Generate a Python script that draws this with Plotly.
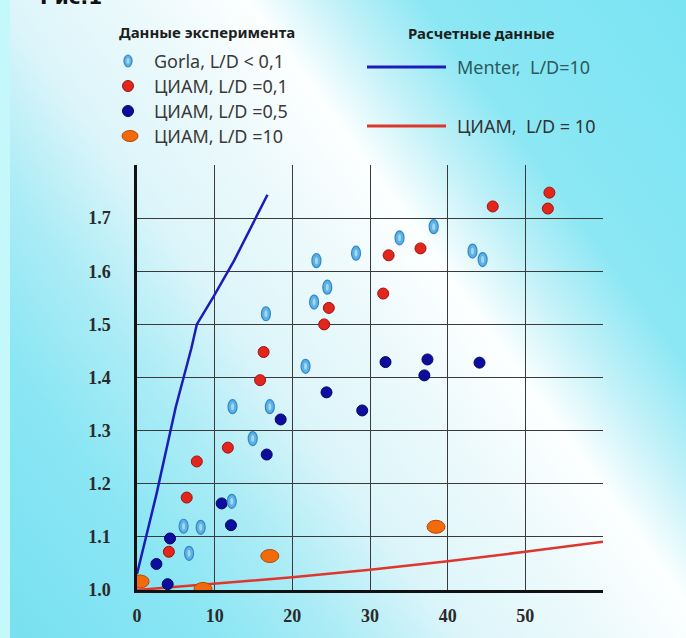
import base64
import plotly.graph_objects as go

# ---------------- data ----------------
gorla_x = [6.0, 6.7, 8.2, 12.2, 12.3, 14.9, 16.6, 17.1, 21.7, 22.8, 23.1, 24.5, 28.2, 33.8, 38.2, 43.2, 44.5]
gorla_y = [1.120, 1.069, 1.118, 1.167, 1.345, 1.285, 1.520, 1.345, 1.421, 1.542, 1.620, 1.570, 1.634, 1.663, 1.684, 1.638, 1.622]

ciam01_x = [4.1, 6.4, 7.7, 11.7, 15.85, 16.3, 24.1, 24.7, 31.7, 32.4, 36.5, 45.8, 52.9, 53.1]
ciam01_y = [1.072, 1.174, 1.242, 1.268, 1.395, 1.448, 1.500, 1.531, 1.558, 1.630, 1.643, 1.722, 1.718, 1.748]

ciam05_x = [2.5, 3.95, 4.25, 10.9, 12.1, 16.7, 18.5, 24.4, 29.0, 32.0, 37.0, 37.4, 44.1]
ciam05_y = [1.049, 1.011, 1.097, 1.163, 1.122, 1.255, 1.321, 1.372, 1.338, 1.429, 1.404, 1.434, 1.428]

ciam10_x = [0.4, 8.5, 17.1, 38.5]
ciam10_y = [1.016, 1.002, 1.064, 1.119]

menter_x = [0.0, 2.5, 5.0, 7.0, 7.7, 9.8, 12.5, 16.8]
menter_y = [1.030, 1.180, 1.345, 1.455, 1.500, 1.551, 1.620, 1.744]

ciam_calc_x = [0, 10, 20, 30, 40, 50, 60]
ciam_calc_y = [1.000, 1.012, 1.024, 1.038, 1.054, 1.072, 1.091]

x_tickvals = [0, 10, 20, 30, 40, 50, 60]
x_ticktext = ["0", "10", "20", "30", "40", "50", ""]
y_tickvals = [1.0, 1.1, 1.2, 1.3, 1.4, 1.5, 1.6, 1.7, 1.8]
y_ticktext = ["1.0", "1.1", "1.2", "1.3", "1.4", "1.5", "1.6", "1.7", ""]

exp_title = "Данные эксперимента"
exp_labels = ["Gorla, L/D < 0,1", "ЦИАМ, L/D =0,1", "ЦИАМ, L/D =0,5", "ЦИАМ, L/D =10"]
calc_title = "Расчетные данные"
calc_labels = ["Menter,  L/D=10", "ЦИАМ,  L/D = 10"]
fig_label = "Рис.1"

# ---------------- layout geometry ----------------
W, H = 686, 638
L, R, T, B = 137, 603, 165, 590
PW, PH = R - L, B - T


def px(xp):
    return (xp - L) / PW


def py(yp):
    return (B - yp) / PH


# colours
C_GORLA = "#5cb2e4"
C_GORLA_EDGE = "#3487c6"
C_GORLA_IN = "#a2d8f3"
C_RED = "#e2261c"
C_RED_EDGE = "#9e1210"
C_BLUE = "#0d0d9e"
C_BLUE_EDGE = "#05055c"
C_ORANGE = "#f26a0c"
C_ORANGE_EDGE = "#b34806"
C_MENTER = "#1c1cb8"
C_CALC = "#e0352c"

# ---------------- background ----------------
# gradient axis s = 0.809*x - 0.588*y ; from s=-400 (offset 0) to s=600 (offset 1)
svg = """<svg xmlns="http://www.w3.org/2000/svg" width="686" height="638" viewBox="0 0 686 638">
<defs><linearGradient id="g" gradientUnits="userSpaceOnUse" x1="-323.6" y1="235.2" x2="485.4" y2="-352.8">
<stop offset="0" stop-color="#74dff0"/>
<stop offset="0.2" stop-color="#8be6f4"/>
<stop offset="0.30" stop-color="#acecf6"/>
<stop offset="0.40" stop-color="#dcf5fa"/>
<stop offset="0.52" stop-color="#eefafc"/>
<stop offset="0.60" stop-color="#fdffff"/>
<stop offset="0.67" stop-color="#c2f1f8"/>
<stop offset="0.74" stop-color="#8ce7f4"/>
<stop offset="1" stop-color="#76e3f2"/>
</linearGradient></defs>
<rect width="686" height="638" fill="url(#g)"/>
<rect width="10" height="638" fill="#c4f8fb"/>
</svg>"""
bg_uri = "data:image/svg+xml;base64," + base64.b64encode(svg.encode("utf-8")).decode("ascii")

fig = go.Figure()

# computed lines
fig.add_trace(go.Scatter(x=menter_x, y=menter_y, mode="lines",
                         line=dict(color=C_MENTER, width=2.5), name=calc_labels[0], showlegend=False))
fig.add_trace(go.Scatter(x=ciam_calc_x, y=ciam_calc_y, mode="lines",
                         line=dict(color=C_CALC, width=2.5), name=calc_labels[1], showlegend=False))

# experimental points
fig.add_trace(go.Scatter(x=gorla_x, y=gorla_y, mode="markers", name=exp_labels[0], showlegend=False,
                         marker=dict(size=10, color=C_GORLA, opacity=0)))
fig.add_trace(go.Scatter(x=ciam01_x, y=ciam01_y, mode="markers", name=exp_labels[1], showlegend=False,
                         marker=dict(size=11, color=C_RED, line=dict(color=C_RED_EDGE, width=1))))
fig.add_trace(go.Scatter(x=ciam05_x, y=ciam05_y, mode="markers", name=exp_labels[2], showlegend=False,
                         marker=dict(size=11, color=C_BLUE, line=dict(color=C_BLUE_EDGE, width=1))))
fig.add_trace(go.Scatter(x=ciam10_x, y=ciam10_y, mode="markers", name=exp_labels[3], showlegend=False,
                         marker=dict(size=14, color=C_ORANGE, opacity=0)))

shapes = []


def ellipse(xv, yv, w, h, fill, edge, lw, xref="x", yref="y"):
    return dict(type="circle", xref=xref, yref=yref, xsizemode="pixel", ysizemode="pixel",
                xanchor=xv, yanchor=yv, x0=-w / 2, x1=w / 2, y0=-h / 2, y1=h / 2,
                fillcolor=fill, line=dict(color=edge, width=lw), layer="above")


for xv, yv in zip(gorla_x, gorla_y):
    shapes.append(ellipse(xv, yv, 9, 14, C_GORLA, C_GORLA_EDGE, 1.2))
    shapes.append(ellipse(xv, yv, 3, 7, C_GORLA_IN, C_GORLA_IN, 0))
for xv, yv in zip(ciam10_x, ciam10_y):
    shapes.append(ellipse(xv, yv, 18, 13, C_ORANGE, C_ORANGE_EDGE, 1))

# ---------------- manual legends ----------------
ann = []
TXT_FONT = "Noto Sans"
ann.append(dict(text=exp_title, xref="paper", yref="paper", x=px(207), y=py(32), xanchor="center",
                yanchor="middle", showarrow=False, font=dict(family=TXT_FONT, size=15, color="#1e1e1e", weight="bold")))
ann.append(dict(text=calc_title, xref="paper", yref="paper", x=px(481), y=py(33), xanchor="center",
                yanchor="middle", showarrow=False, font=dict(family=TXT_FONT, size=15, color="#1e1e1e", weight="bold")))

rows = [61, 86, 111, 136]
for lab, yr in zip(exp_labels, rows):
    ann.append(dict(text=lab, xref="paper", yref="paper", x=px(152), y=py(yr), xanchor="left",
                    yanchor="middle", showarrow=False, font=dict(family=TXT_FONT, size=18, color="#3a3a3a")))

shapes.append(ellipse(px(128), py(rows[0]), 8, 12, C_GORLA, C_GORLA_EDGE, 1.2, "paper", "paper"))
shapes.append(ellipse(px(128), py(rows[0]), 3, 6, C_GORLA_IN, C_GORLA_IN, 0, "paper", "paper"))
shapes.append(ellipse(px(128), py(rows[1]), 11, 11, C_RED, C_RED_EDGE, 1, "paper", "paper"))
shapes.append(ellipse(px(128), py(rows[2]), 11, 11, C_BLUE, C_BLUE_EDGE, 1, "paper", "paper"))
shapes.append(ellipse(px(130), py(rows[3]), 16, 11, C_ORANGE, C_ORANGE_EDGE, 1, "paper", "paper"))

calc_rows = [67, 126]
calc_colors = [C_MENTER, C_CALC]
calc_txt_colors = ["#2c5a5c", "#333333"]
for lab, yr, c, tc in zip(calc_labels, calc_rows, calc_colors, calc_txt_colors):
    shapes.append(dict(type="line", xref="paper", yref="paper", x0=px(367), x1=px(446), y0=py(yr), y1=py(yr),
                       line=dict(color=c, width=3)))
    ann.append(dict(text=lab, xref="paper", yref="paper", x=px(455), y=py(yr), xanchor="left",
                    yanchor="middle", showarrow=False, font=dict(family=TXT_FONT, size=18, color=tc)))

ann.append(dict(text=fig_label, xref="paper", yref="paper", x=px(38), y=py(11), xanchor="left",
                yanchor="bottom", showarrow=False, font=dict(family="DejaVu Sans", size=20, color="#111", weight="bold")))

tickfont = dict(family="Liberation Serif", size=18, color="#2a2a2a", weight="bold")

fig.update_layout(
    width=W, height=H, autosize=False,
    margin=dict(l=L, r=W - R, t=T, b=H - B, pad=0),
    paper_bgcolor="#8ee8f4",
    plot_bgcolor="rgba(0,0,0,0)",
    showlegend=False,
    shapes=shapes,
    annotations=ann,
    images=[dict(source=bg_uri, xref="paper", yref="paper", x=-L / PW, y=B / PH,
                 sizex=W / PW, sizey=H / PH, xanchor="left", yanchor="top",
                 sizing="stretch", layer="below")],
    xaxis=dict(range=[0, 60], tickvals=x_tickvals, ticktext=x_ticktext, showgrid=True,
               gridcolor="#3a3a3a", gridwidth=1, showline=True, linecolor="#111", linewidth=2.5,
               zeroline=False, ticks="", tickfont=tickfont, ticklabelstandoff=8),
    yaxis=dict(range=[1.0, 1.8], tickvals=y_tickvals, ticktext=y_ticktext, showgrid=True,
               gridcolor="#3a3a3a", gridwidth=1, showline=True, linecolor="#111", linewidth=2.5,
               zeroline=False, ticks="", tickfont=tickfont, ticklabelstandoff=20),
)

fig.write_html("out.html", config={"displayModeBar": False},
               post_script="document.body.style.margin='0';document.body.style.overflow='hidden';")
